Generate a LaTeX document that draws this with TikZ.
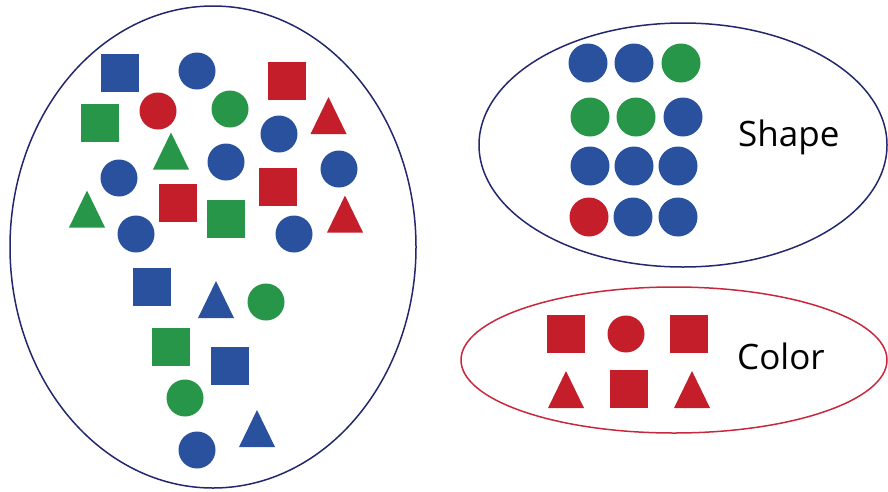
\documentclass[tikz,border=0pt]{standalone}
\usepackage{fontspec}
\setmainfont{Open Sans}
\definecolor{sblue}{RGB}{41,81,157}
\definecolor{sred}{RGB}{196,30,42}
\definecolor{sgreen}{RGB}{40,150,72}
\definecolor{navy}{RGB}{35,40,110}
\definecolor{ered}{RGB}{200,40,60}
\newcommand\mytri[4]{\coordinate (#1) at (#3,#4);
  \fill[#2] ($(#1)+(-18,18.5)$) -- ($(#1)+(18,18.5)$) -- ($(#1)+(0,-18.5)$) -- cycle;}
\usetikzlibrary{calc}
\begin{document}
\begin{tikzpicture}[x=1pt,y=-1pt,
  sq/.style={rectangle,minimum size=37.5pt,inner sep=0pt},
  dot/.style={circle,minimum size=37pt,inner sep=0pt},
  bigdot/.style={circle,minimum size=39pt,inner sep=0pt},
  lbl/.style={font=\fontsize{35}{35}\selectfont,anchor=base west,inner sep=0pt,text=black},
  outl/.style={line width=1.5pt}]
\useasboundingbox (0,0) rectangle (888,491);
\fill[white] (0,0) rectangle (888,491);
% big ellipse
\draw[outl,navy] (213,247) ellipse [x radius=203, y radius=241];
% mixed shapes
\node[sq,fill=sblue] (b1) at (120,73) {};
\node[dot,fill=sblue] (b2) at (197,71) {};
\node[sq,fill=sred] (b3) at (287,81) {};
\node[sq,fill=sgreen] (b4) at (100,123) {};
\node[dot,fill=sred] (b5) at (158,111) {};
\node[dot,fill=sgreen] (b6) at (230,109) {};
\mytri{b7}{sred}{328.5}{115.5}
\node[dot,fill=sblue] (b8) at (279,134) {};
\mytri{b9}{sgreen}{171}{151}
\node[dot,fill=sblue] (b10) at (226,162) {};
\node[dot,fill=sblue] (b11) at (119,178) {};
\node[dot,fill=sblue] (b12) at (339,169) {};
\node[sq,fill=sred] (b13) at (278,187) {};
\mytri{b14}{sgreen}{87}{209}
\node[sq,fill=sred] (b15) at (178,203) {};
\node[sq,fill=sgreen] (b16) at (226,219) {};
\mytri{b17}{sred}{345}{214}
\node[dot,fill=sblue] (b18) at (136,234) {};
\node[dot,fill=sblue] (b19) at (294,234) {};
\node[sq,fill=sblue] (b20) at (152,287) {};
\mytri{b21}{sblue}{216}{299.5}
\node[dot,fill=sgreen] (b22) at (266,302) {};
\node[sq,fill=sgreen] (b23) at (171,347) {};
\node[sq,fill=sblue] (b24) at (230,366) {};
\node[dot,fill=sgreen] (b25) at (185,398) {};
\mytri{b26}{sblue}{257}{428.5}
\node[dot,fill=sblue] (b27) at (197,450) {};
% shape ellipse
\draw[outl,navy] (683,145) ellipse [x radius=204, y radius=122];
\node[bigdot,fill=sblue] (s11) at (588,63) {};
\node[bigdot,fill=sblue] (s12) at (634,63) {};
\node[bigdot,fill=sgreen] (s13) at (681,63) {};
\node[bigdot,fill=sgreen] (s21) at (590,117) {};
\node[bigdot,fill=sgreen] (s22) at (636,117) {};
\node[bigdot,fill=sblue] (s23) at (683,117) {};
\node[bigdot,fill=sblue] (s31) at (590,166) {};
\node[bigdot,fill=sblue] (s32) at (634,166) {};
\node[bigdot,fill=sblue] (s33) at (678,166) {};
\node[bigdot,fill=sred] (s41) at (589,217) {};
\node[bigdot,fill=sblue] (s42) at (633,217) {};
\node[bigdot,fill=sblue] (s43) at (678,217) {};
\node[lbl] (shape) at (738,146) {Shape};
% color ellipse
\draw[outl,ered] (674,360) ellipse [x radius=213, y radius=73];
\node[sq,fill=sred] (c1) at (566,334) {};
\node[dot,fill=sred] (c2) at (626,334) {};
\node[sq,fill=sred] (c3) at (689,334) {};
\mytri{c4}{sred}{566}{389.5}
\node[sq,fill=sred] (c5) at (629,389) {};
\mytri{c6}{sred}{692}{389.5}
\node[lbl] (color) at (737,369) {Color};
\end{tikzpicture}
\end{document}
